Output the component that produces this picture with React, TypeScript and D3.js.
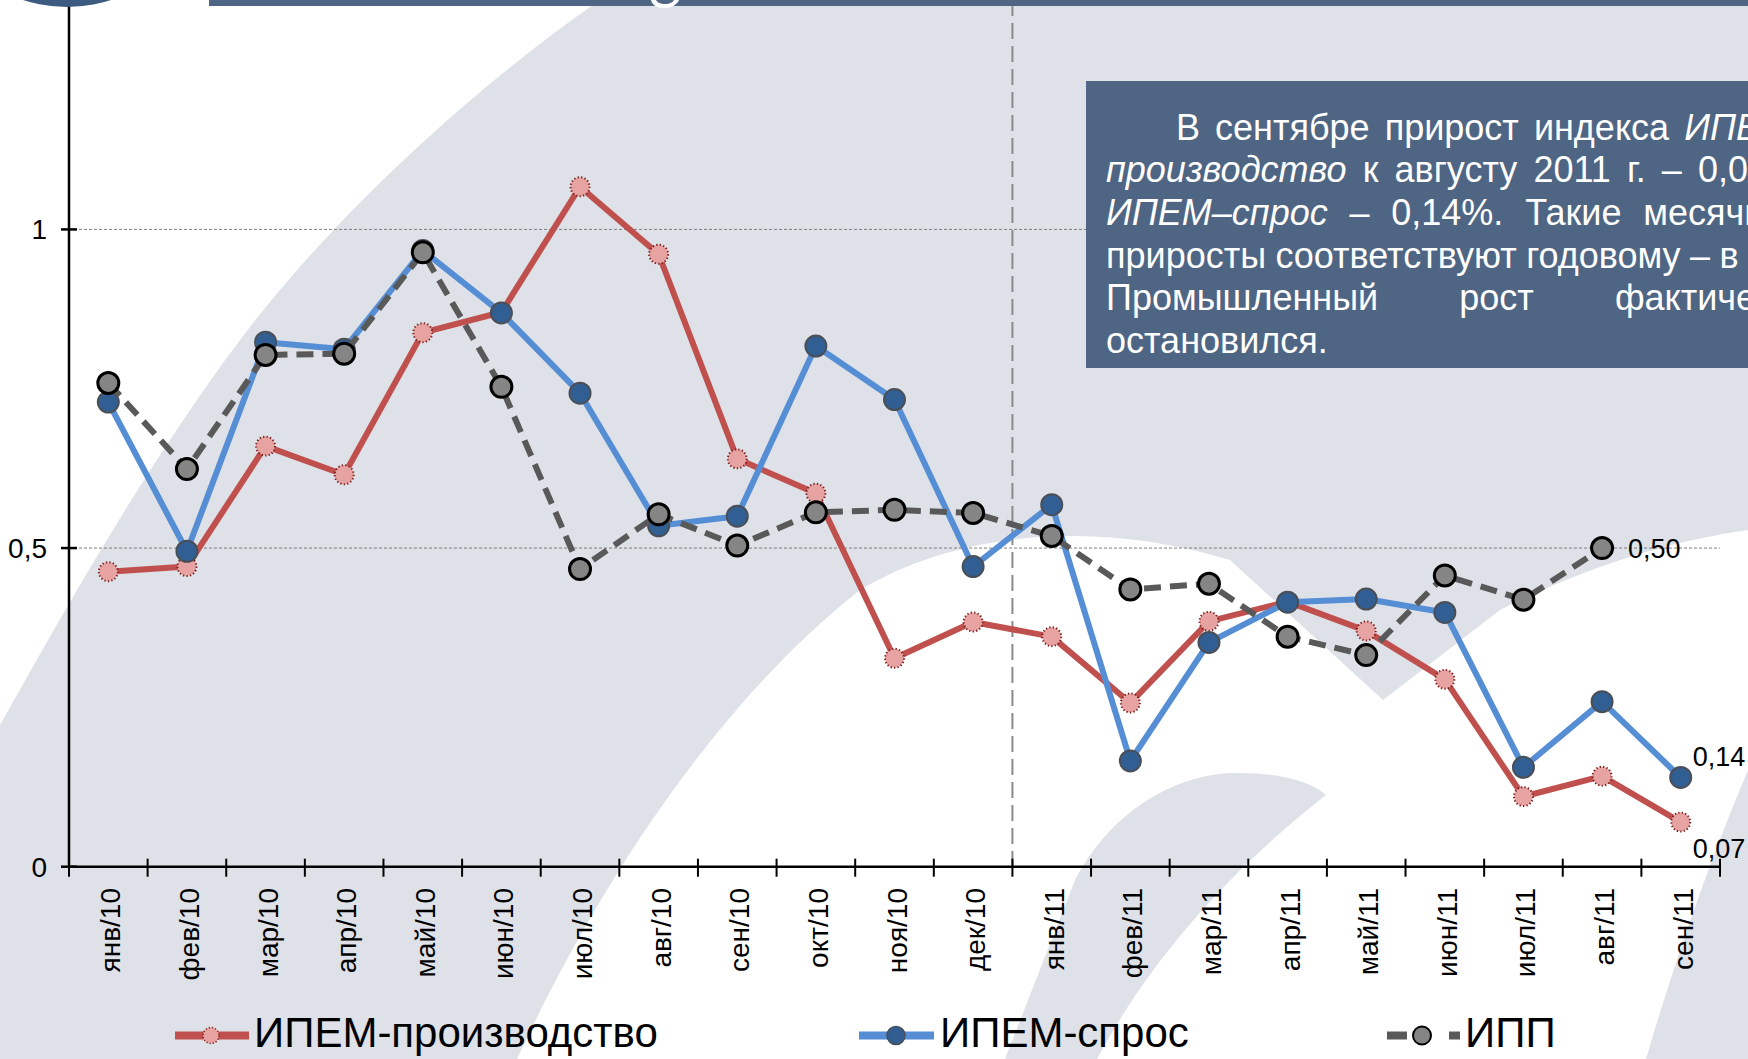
import React from "react";
import * as d3 from "d3";

const W = 1748;
const H = 1059;

const categories = [
  "янв/10", "фев/10", "мар/10", "апр/10", "май/10", "июн/10", "июл/10",
  "авг/10", "сен/10", "окт/10", "ноя/10", "дек/10", "янв/11", "фев/11",
  "мар/11", "апр/11", "май/11", "июн/11", "июл/11", "авг/11", "сен/11",
];

const ipemProduction = [
  0.463, 0.471, 0.66, 0.615, 0.838, 0.87, 1.067, 0.961, 0.64, 0.586, 0.327,
  0.384, 0.361, 0.257, 0.385, 0.416, 0.37, 0.294, 0.11, 0.142, 0.07,
];
const ipemDemand = [
  0.729, 0.495, 0.823, 0.812, 0.967, 0.869, 0.743, 0.535, 0.55, 0.817, 0.733,
  0.471, 0.568, 0.166, 0.352, 0.415, 0.42, 0.399, 0.156, 0.259, 0.14,
];
const ipp: (number | null)[] = [
  0.759, 0.624, 0.803, 0.805, 0.964, 0.753, 0.467, 0.553, 0.504, 0.556, 0.56,
  0.555, 0.519, 0.435, 0.444, 0.361, 0.332, 0.457, 0.419, 0.5, null,
];

const yTicks = [0, 0.5, 1];
const yTickLabels = ["0", "0,5", "1"];
const gridValues = [0.5, 1];

const legendLabels = ["ИПЕМ-производство", "ИПЕМ-спрос", "ИПП"];

const valueLabels = [
  { series: "ipp", index: 19, text: "0,50" },
  { series: "demand", index: 20, text: "0,14" },
  { series: "prod", index: 20, text: "0,07" },
];

const noteLines = [
  { indent: true, parts: [{ t: "В сентябре прирост индекса", i: false }, { t: "ИПЕМ–", i: true }] },
  { indent: false, parts: [{ t: "производство", i: true }, { t: "к августу 2011 г. – 0,07%,", i: false }] },
  { indent: false, parts: [{ t: "ИПЕМ–спрос", i: true }, { t: "– 0,14%. Такие месячные", i: false }] },
  { indent: false, parts: [{ t: "приросты соответствуют годовому – в 1%.", i: false }] },
  { indent: false, parts: [{ t: "Промышленный рост фактически", i: false }] },
  { indent: false, last: true, parts: [{ t: "остановился.", i: false }] },
];

const FONT = "Liberation Sans, Arial, sans-serif";

let ctx: CanvasRenderingContext2D | null = null;
function measure(text: string, italic: boolean, size: number) {
  if (!ctx && typeof document !== "undefined") {
    ctx = document.createElement("canvas").getContext("2d");
  }
  if (!ctx) return text.length * size * 0.5;
  ctx.font = `${italic ? "italic " : ""}${size}px "Liberation Sans", Arial, sans-serif`;
  return ctx.measureText(text).width;
}

export default function App() {
  const x = d3.scaleBand<string>().domain(categories).range([69, 1720]).padding(0);
  const bw = x.bandwidth();
  const cx = (i: number) => (x(categories[i]) as number) + bw / 2;
  const y = d3.scaleLinear().domain([0, 1.36]).range([866.7, 0]);
  const y0 = y(0);

  const line = d3
    .line<number | null>()
    .defined((d) => d != null)
    .x((_, i) => cx(i))
    .y((d) => y(d as number));

  const GRAY_BG = "#dee1e7";
  const BOX = "#4f6584";

  const noteSize = 36;
  const textLeft = 1106;
  const textRight = 1810;
  const indent = 70;
  const base0 = 139.5;
  const lh = 42.7;

  const noteEls: React.ReactNode[] = [];
  noteLines.forEach((ln, li) => {
    const words: { t: string; i: boolean; w: number }[] = [];
    ln.parts.forEach((p) => {
      p.t.split(" ").filter((s) => s.length).forEach((s) => {
        words.push({ t: s, i: p.i, w: measure(s, p.i, noteSize) });
      });
    });
    const start = textLeft + (ln.indent ? indent : 0);
    const total = words.reduce((a, b) => a + b.w, 0);
    const space = measure(" ", false, noteSize);
    const gap = (ln as any).last || words.length < 2 ? space : (textRight - start - total) / (words.length - 1);
    let cur = start;
    words.forEach((wd, wi) => {
      noteEls.push(
        <text
          key={`n${li}-${wi}`}
          x={cur}
          y={base0 + li * lh}
          fontSize={noteSize}
          fontStyle={wd.i ? "italic" : "normal"}
          fill="#ffffff"
          style={{ fontFamily: FONT }}
        >
          {wd.t}
        </text>
      );
      cur += wd.w + gap;
    });
  });

  const seriesY: Record<string, (number | null)[]> = {
    prod: ipemProduction,
    demand: ipemDemand,
    ipp: ipp,
  };

  const legY = 1035.5;
  const tf = { fontFamily: FONT };

  return (
    <div style={{ position: "absolute", left: 0, top: 0, width: W, height: H, overflow: "hidden" }}>
      <svg width={W} height={H} viewBox={`0 0 ${W} ${H}`} style={{ display: "block" }}>
        <rect x={0} y={0} width={W} height={H} fill="#ffffff" />
        {/* watermark background */}
        <path
          d="M 600,0 C 470,90 330,220 240,340 C 150,460 70,600 0,725 L 0,1059 L 1748,1059 L 1748,0 Z"
          fill={GRAY_BG}
        />
        <path
          d="M 517,1059 C 600,880 720,700 860,590 C 960,530 1100,520 1230,560 L 1383,700 L 1500,610 C 1600,560 1680,540 1748,530 L 1748,1059 Z"
          fill="#ffffff"
        />
        <path
          d="M 1005,1059 L 1075,880 C 1115,805 1180,775 1232,773 C 1280,772 1312,782 1326,795 C 1230,870 1150,960 1097,1059 Z"
          fill={GRAY_BG}
        />
        <path d="M 1646,1059 L 1748,1059 L 1748,770 C 1710,860 1675,960 1646,1059 Z" fill={GRAY_BG} />

        {/* gridlines */}
        {gridValues.map((v) => (
          <line
            key={`g${v}`}
            x1={69}
            x2={1720}
            y1={y(v)}
            y2={y(v)}
            stroke="#7f7f7f"
            strokeWidth={1}
            strokeDasharray="3,2"
          />
        ))}

        {/* divider between years */}
        <line
          x1={x("янв/11") as number}
          x2={x("янв/11") as number}
          y1={0}
          y2={y0}
          stroke="#8a8a8a"
          strokeWidth={2}
          strokeDasharray="16,7"
        />

        {/* text box */}
        <rect x={1086} y={81} width={W - 1086} height={287} fill={BOX} />
        {noteEls}

        {/* header */}
        <rect x={209} y={0} width={W - 209} height={6} fill={BOX} />
        <path d="M 651,0 L 656,0 C 657,2 660,4 665,4 C 670,4 673,2 674,0 L 679,0 C 677,5 671,8 664,8 C 657,8 652,5 651,0 Z" fill="#ffffff" />

        {/* axes */}
        <line x1={69} x2={69} y1={0} y2={y0} stroke="#000" strokeWidth={2.5} />
        <line x1={69} x2={1720} y1={y0} y2={y0} stroke="#000" strokeWidth={2.5} />
        {yTicks.map((v, i) => (
          <g key={`yt${i}`}>
            <line x1={61} x2={77} y1={y(v)} y2={y(v)} stroke="#000" strokeWidth={2.5} />
            <text x={47} y={y(v) + 10} textAnchor="end" fontSize={28} style={tf} fill="#000">
              {yTickLabels[i]}
            </text>
          </g>
        ))}
        {categories.map((c, i) => (
          <line
            key={`xt${i}`}
            x1={x(c) as number}
            x2={x(c) as number}
            y1={y0 - 8}
            y2={y0 + 10}
            stroke="#000"
            strokeWidth={2}
          />
        ))}
        <line x1={1720} x2={1720} y1={y0 - 8} y2={y0 + 10} stroke="#000" strokeWidth={2} />
        {categories.map((c, i) => (
          <text
            key={`xl${i}`}
            transform={`translate(${cx(i) + 12},${888}) rotate(-90)`}
            textAnchor="end"
            fontSize={28}
            style={tf}
            fill="#000"
          >
            {c}
          </text>
        ))}

        {/* series: production */}
        <path d={line(ipemProduction) || ""} fill="none" stroke="#c0504d" strokeWidth={6} strokeLinejoin="round" />
        {ipemProduction.map((v, i) => (
          <circle
            key={`pm${i}`}
            cx={cx(i)}
            cy={y(v)}
            r={9.5}
            fill="#e7a3a1"
            stroke="#7a1c1c"
            strokeWidth={2}
            strokeDasharray="1.3,2.2"
          />
        ))}

        {/* series: demand */}
        <path d={line(ipemDemand) || ""} fill="none" stroke="#558ed5" strokeWidth={6} strokeLinejoin="round" />
        {ipemDemand.map((v, i) => (
          <circle key={`dm${i}`} cx={cx(i)} cy={y(v)} r={10.5} fill="#325f93" stroke="#4a4f57" strokeWidth={2} />
        ))}

        {/* series: IPP */}
        <path
          d={line(ipp) || ""}
          fill="none"
          stroke="#595959"
          strokeWidth={6}
          strokeDasharray="17,9"
          strokeLinejoin="round"
        />
        {ipp.map((v, i) =>
          v == null ? null : (
            <circle key={`im${i}`} cx={cx(i)} cy={y(v)} r={10.5} fill="#858585" stroke="#000" strokeWidth={3} />
          )
        )}

        {/* value labels */}
        {valueLabels.map((lb, k) => {
          const v = seriesY[lb.series][lb.index] as number;
          const px = cx(lb.index);
          let tx = px + 26;
          let ty = y(v) + 10;
          if (lb.series === "demand") {
            tx = px + 12;
            ty = y(v) - 11;
          }
          if (lb.series === "prod") {
            tx = px + 12;
            ty = y(v) + 36;
          }
          return (
            <text key={`vl${k}`} x={tx} y={ty} fontSize={27} style={tf} fill="#000">
              {lb.text}
            </text>
          );
        })}

        {/* top-left logo circle */}
        <circle cx={67} cy={-135} r={142} fill="#3d5a80" />

        {/* legend */}
        <g>
          <line x1={175} x2={249} y1={legY} y2={legY} stroke="#c0504d" strokeWidth={8} />
          <circle cx={211} cy={legY} r={8} fill="#e7a3a1" stroke="#7a1c1c" strokeWidth={1.5} strokeDasharray="1.2,2" />
          <text x={254} y={1047} fontSize={42} style={tf} fill="#000">
            {legendLabels[0]}
          </text>

          <line x1={859} x2={934} y1={legY} y2={legY} stroke="#558ed5" strokeWidth={8} />
          <circle cx={896} cy={legY} r={9} fill="#325f93" stroke="#4a4f57" strokeWidth={1.5} />
          <text x={940} y={1047} fontSize={42} style={tf} fill="#000">
            {legendLabels[1]}
          </text>

          <line x1={1387} x2={1407} y1={legY} y2={legY} stroke="#595959" strokeWidth={8} />
          <circle cx={1422} cy={legY} r={9} fill="#858585" stroke="#000" strokeWidth={2} />
          <line x1={1449} x2={1460} y1={legY} y2={legY} stroke="#595959" strokeWidth={8} />
          <text x={1465} y={1047} fontSize={42} style={tf} fill="#000">
            {legendLabels[2]}
          </text>
        </g>
      </svg>
    </div>
  );
}
